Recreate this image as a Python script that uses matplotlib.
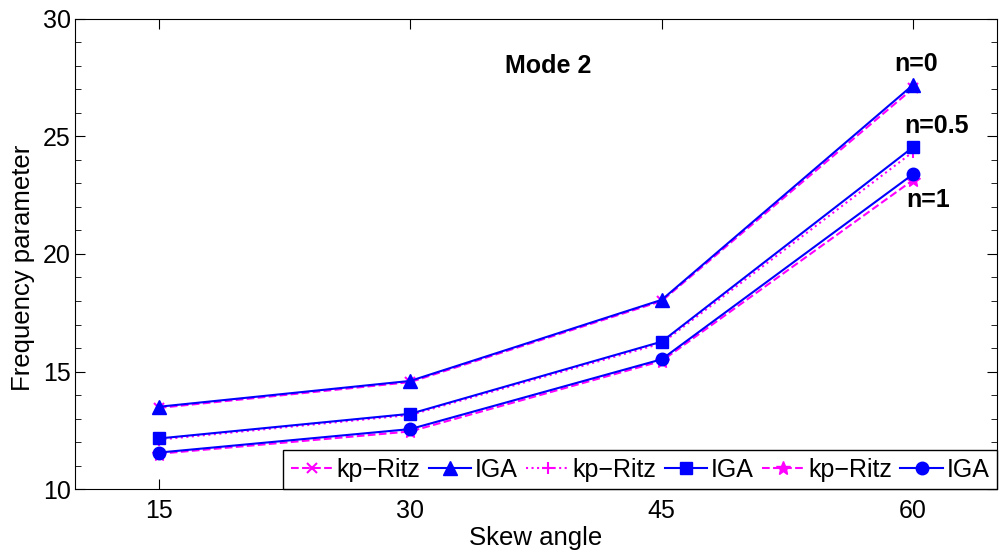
import matplotlib
matplotlib.use('Agg')
import matplotlib.pyplot as plt
from matplotlib.ticker import MultipleLocator

matplotlib.rcParams.update({'font.size': 18, 'font.family': ['Liberation Sans', 'DejaVu Sans']})

skew = [15, 30, 45, 60]

# kp-Ritz results
ritz_n0 = [13.45, 14.55, 18.0, 27.05]
ritz_n05 = [12.1, 13.15, 16.2, 24.35]
ritz_n1 = [11.5, 12.45, 15.45, 23.15]

# IGA results
iga_n0 = [13.5, 14.6, 18.05, 27.2]
iga_n05 = [12.15, 13.2, 16.27, 24.55]
iga_n1 = [11.55, 12.55, 15.52, 23.4]

fig = plt.figure(figsize=(10, 5.53), dpi=100)
ax = fig.add_axes([0.075, 0.1157, 0.922, 0.85])

ax.plot(skew, ritz_n0, '--x', color='magenta', lw=1.5, ms=7, mew=1.5, label='kp\u2212Ritz')
ax.plot(skew, iga_n0, '-^', color='blue', lw=1.5, ms=10, label='IGA')
ax.plot(skew, ritz_n05, ':+', color='magenta', lw=1.5, ms=8, mew=1.5, label='kp\u2212Ritz')
ax.plot(skew, iga_n05, '-s', color='blue', lw=1.5, ms=8, label='IGA')
ax.plot(skew, ritz_n1, '--*', color='magenta', lw=1.5, ms=10, label='kp\u2212Ritz')
ax.plot(skew, iga_n1, '-o', color='blue', lw=1.5, ms=9, label='IGA')

ax.set_xlim(10, 65)
ax.set_ylim(10, 30)
ax.set_xticks(skew)
ax.set_yticks([10, 15, 20, 25, 30])
ax.yaxis.set_minor_locator(MultipleLocator(1))
ax.tick_params(which='both', direction='in', top=True, right=True, labelsize=18)
ax.tick_params(which='major', length=7)
ax.tick_params(which='minor', length=4)
ax.tick_params(axis='x', pad=7)
ax.tick_params(axis='y', pad=3)

ax.set_xlabel('Skew angle', fontsize=18.5, labelpad=2)
ax.set_ylabel('Frequency parameter', fontsize=18.5, labelpad=3)
ax.yaxis.set_label_coords(-0.043, 0.47)

ax.text(38.2, 28.0, 'Mode 2', fontsize=18, fontweight='bold', ha='center', va='center')
ax.text(60.2, 28.1, 'n=0', fontsize=18, fontweight='bold', ha='center', va='center')
ax.text(61.4, 25.45, 'n=0.5', fontsize=18, fontweight='bold', ha='center', va='center')
ax.text(60.9, 22.3, 'n=1', fontsize=18, fontweight='bold', ha='center', va='center')

leg = ax.legend(loc='lower right', ncol=6, fancybox=False, framealpha=1, edgecolor='black',
                borderaxespad=0, handlelength=1.7, handletextpad=0.15, columnspacing=0.33,
                fontsize=18, borderpad=0.3)
leg.get_frame().set_linewidth(1.0)

fig.savefig('out.png', dpi=100)
